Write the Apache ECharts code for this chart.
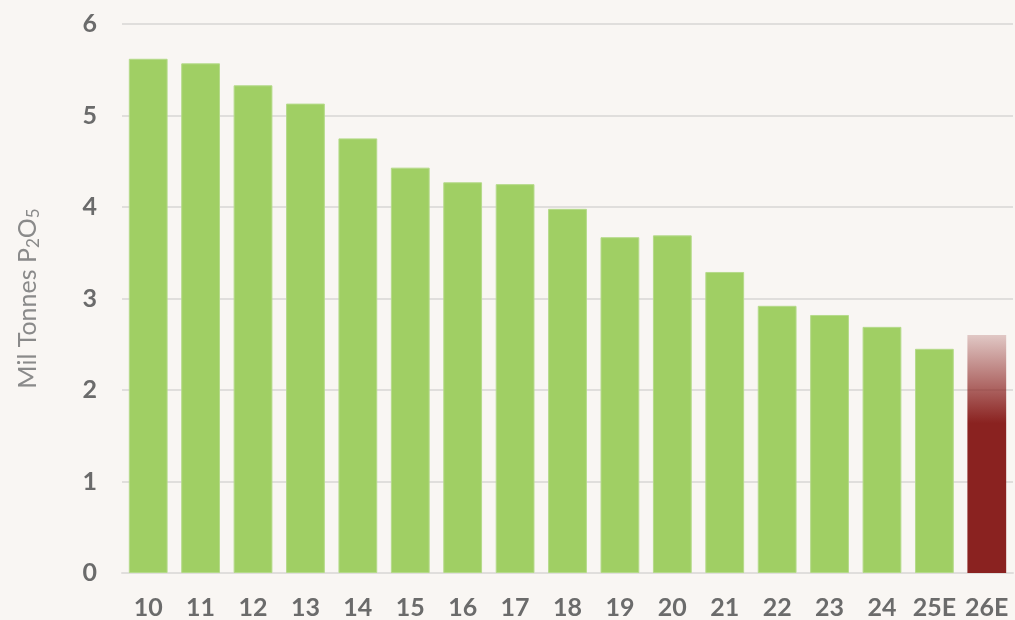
<!DOCTYPE html>
<html><head><meta charset="utf-8">
<script src="https://cdn.jsdelivr.net/npm/echarts@6/dist/echarts.min.js"></script>
<style>html,body{margin:0;padding:0;background:#f9f6f3;}#c{width:1015px;height:620px;}</style>
</head><body><div id="c"></div>
<script>
const categories = ['10','11','12','13','14','15','16','17','18','19','20','21','22','23','24','25E','26E'];
const values = [5.62,5.57,5.33,5.13,4.75,4.43,4.27,4.25,3.98,3.67,3.69,3.29,2.92,2.82,2.69,2.45,2.60];
const yTicks = [0,1,2,3,4,5,6];

const chart = echarts.init(document.getElementById('c'));
const data = values.map((v,i)=>{
  if (i === values.length-1) {
    return {value:v, itemStyle:{color:new echarts.graphic.LinearGradient(0,0,0,1,[
      {offset:0,color:'rgba(138,34,32,0.22)'},
      {offset:0.37,color:'rgba(138,34,32,1)'},
      {offset:1,color:'rgba(138,34,32,1)'}]), borderWidth:0}};
  }
  return v;
});
chart.setOption({
  backgroundColor:'#f9f6f3',
  animation:false,
  grid:{left:122,right:2,top:24,bottom:47,containLabel:false},
  xAxis:{type:'category',data:categories,
    axisLine:{show:true,lineStyle:{color:'#e0dedc',width:2}},
    axisTick:{show:false},
    axisLabel:{interval:0,color:'#6b6b6b',fontFamily:'Lato',fontWeight:'bold',fontSize:25,margin:22}},
  yAxis:{type:'value',min:0,max:6,interval:1,
    name:'{a|Mil Tonnes P}{s|2}{a|O}{s|5}',
    nameLocation:'middle',nameGap:80,nameRotate:90,
    nameTextStyle:{rich:{
      a:{fontFamily:'Lato',fontSize:25,color:'#8a8a8a'},
      s:{fontFamily:'Lato',fontSize:17,color:'#8a8a8a',verticalAlign:'bottom',padding:[12,0,0,0]}}},
    axisLine:{show:false},axisTick:{show:false},
    splitLine:{lineStyle:{color:'#e0dedc',width:2}},
    axisLabel:{color:'#6b6b6b',fontFamily:'Lato',fontWeight:'bold',fontSize:25,margin:25,
      formatter:v=>yTicks.includes(v)?String(v):''}},
  series:[{type:'bar',data:data,barCategoryGap:'26%',
    itemStyle:{color:'#a0cf64',borderColor:'#b5da8a',borderWidth:1}}]
});
</script></body></html>
